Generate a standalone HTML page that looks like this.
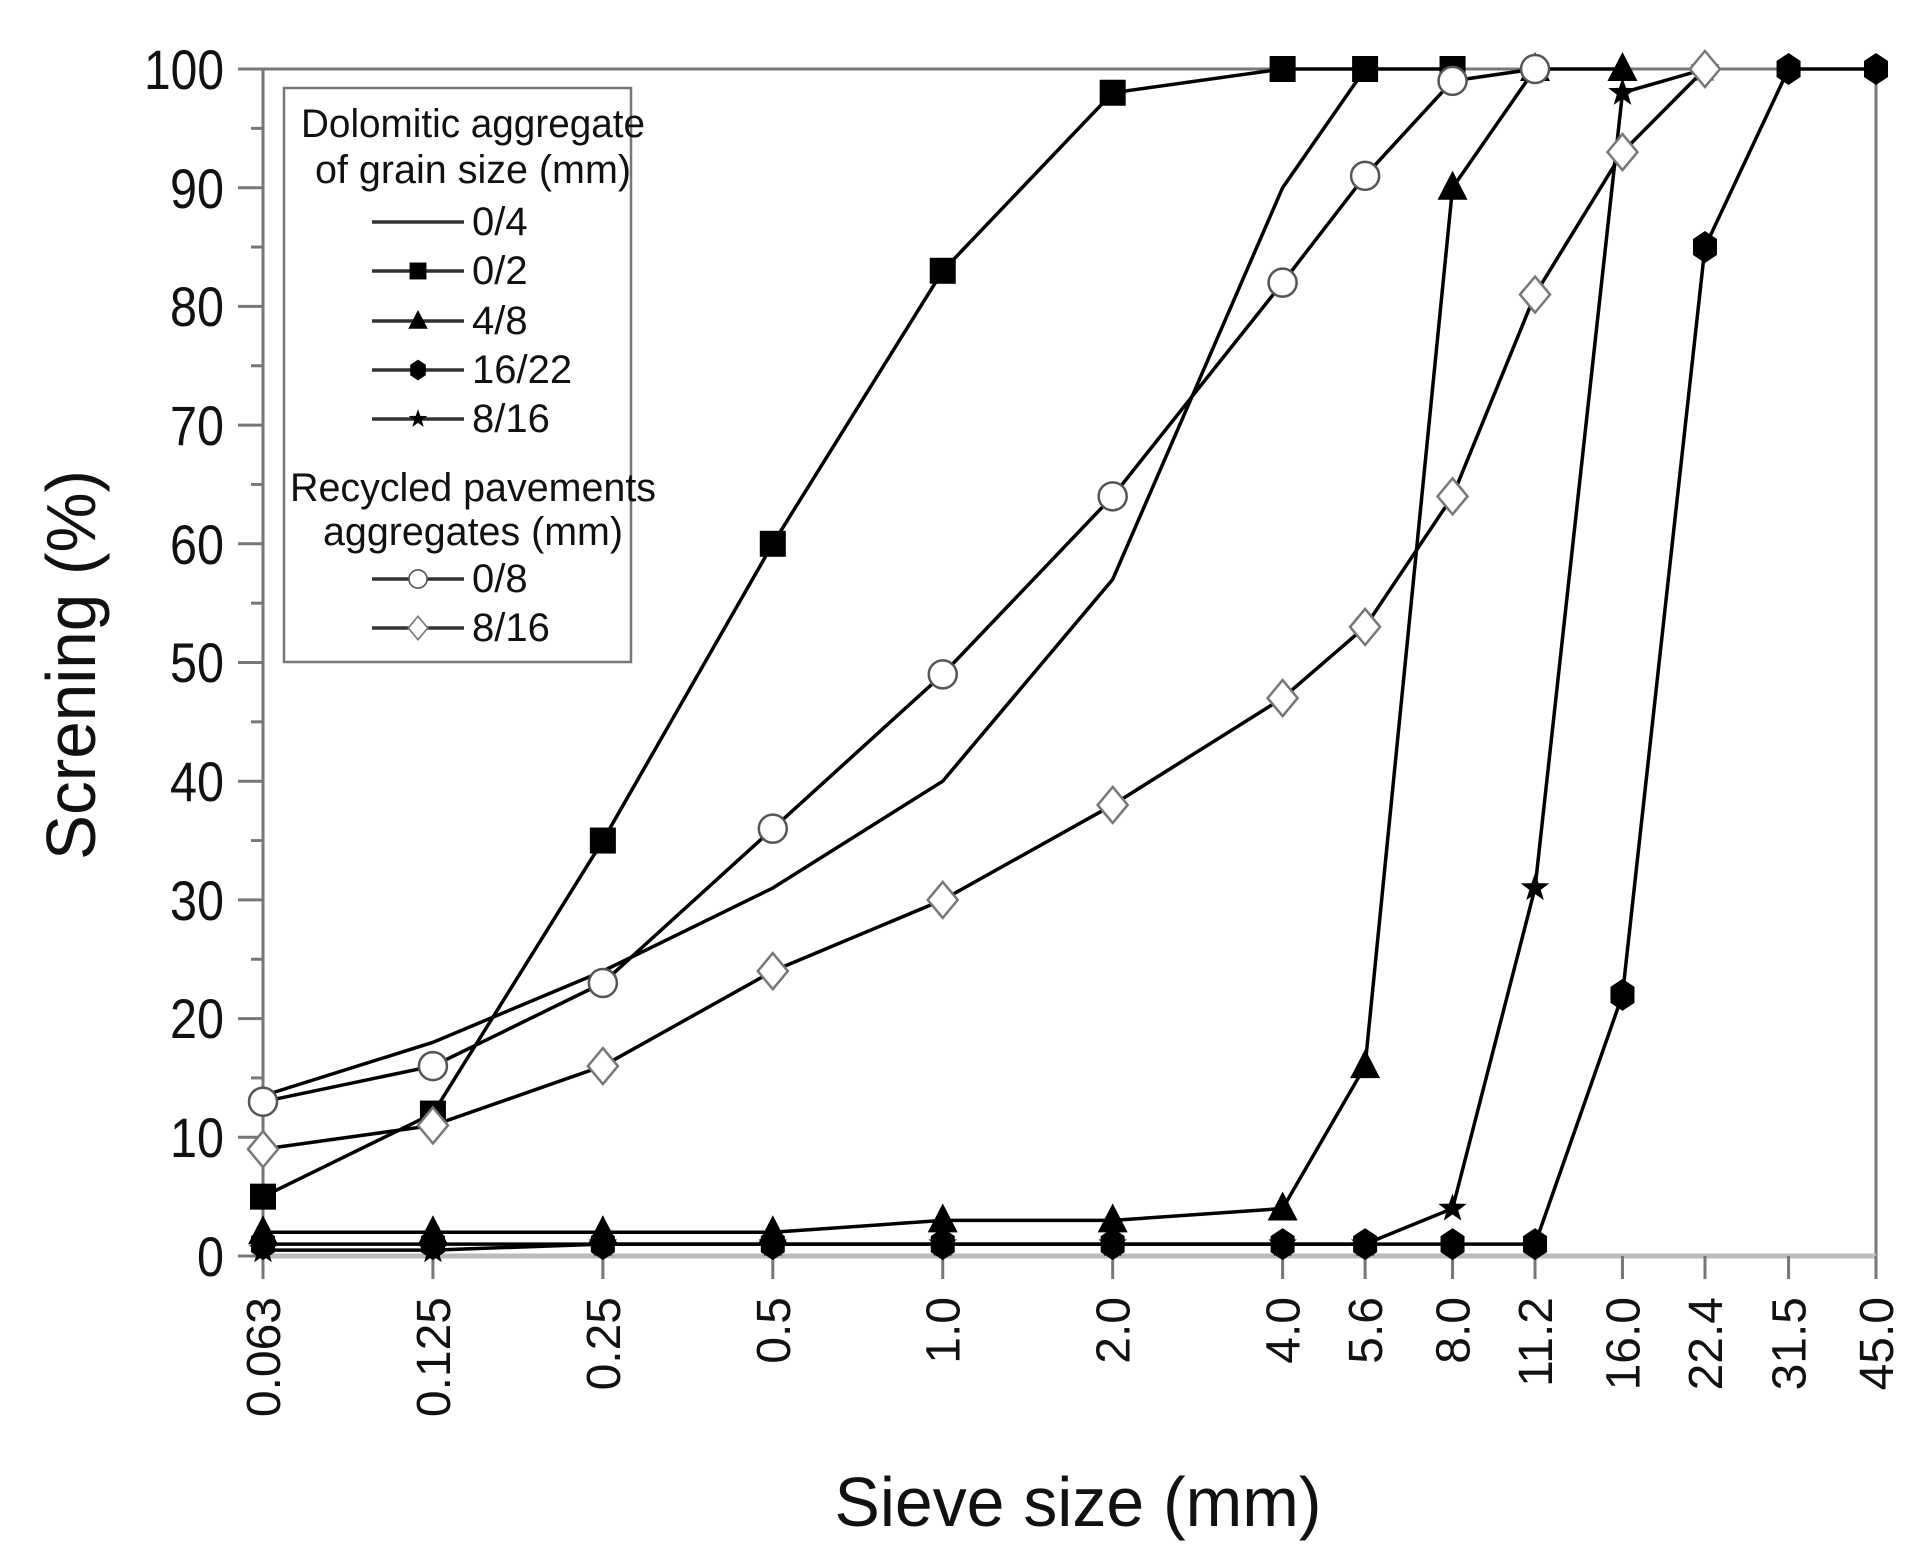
<!DOCTYPE html>
<html><head><meta charset="utf-8"><style>
html,body{margin:0;padding:0;background:#fff;}
svg{display:block;}
text{font-family:"Liberation Sans",Arial,sans-serif;fill:#111;}
</style></head><body>
<svg id="s" width="1928" height="1557" viewBox="0 0 1928 1557" xmlns="http://www.w3.org/2000/svg">
<rect x="0" y="0" width="1928" height="1557" fill="#fff"/>
<g id="axes" stroke="#777" stroke-width="3" fill="none">
<line x1="263" y1="69" x2="1876" y2="69"/>
<line x1="1876" y1="69" x2="1876" y2="1258"/>
<line x1="263" y1="69" x2="263" y2="1256"/>
<line x1="263" y1="1256" x2="1876" y2="1256" stroke="#bbb" stroke-width="5"/>
</g>
<g id="ticks" stroke="#777" stroke-width="3"></g>
<g id="series"></g>
<!-- legend -->
<rect x="284" y="88" width="347" height="574" fill="#fff" stroke="#777" stroke-width="2.5"/>
<g font-size="40" text-anchor="middle">
<text x="473" y="137" textLength="344" lengthAdjust="spacingAndGlyphs">Dolomitic aggregate</text>
<text x="473" y="183" textLength="316" lengthAdjust="spacingAndGlyphs">of grain size (mm)</text>
<text x="473" y="501" textLength="366" lengthAdjust="spacingAndGlyphs">Recycled pavements</text>
<text x="473" y="545" textLength="300" lengthAdjust="spacingAndGlyphs">aggregates (mm)</text>
</g>
<g font-size="40">
<text x="472" y="235">0/4</text>
<text x="472" y="284">0/2</text>
<text x="472" y="334">4/8</text>
<text x="472" y="383">16/22</text>
<text x="472" y="432">8/16</text>
<text x="472" y="592">0/8</text>
<text x="472" y="641">8/16</text>
</g>
<g id="leg"></g>
<!-- y labels -->
<g font-size="56" text-anchor="end">
<text x="224" y="89" textLength="80" lengthAdjust="spacingAndGlyphs">100</text>
<text x="224" y="208" textLength="54" lengthAdjust="spacingAndGlyphs">90</text>
<text x="224" y="326" textLength="54" lengthAdjust="spacingAndGlyphs">80</text>
<text x="224" y="445" textLength="54" lengthAdjust="spacingAndGlyphs">70</text>
<text x="224" y="564" textLength="54" lengthAdjust="spacingAndGlyphs">60</text>
<text x="224" y="682" textLength="54" lengthAdjust="spacingAndGlyphs">50</text>
<text x="224" y="801" textLength="54" lengthAdjust="spacingAndGlyphs">40</text>
<text x="224" y="920" textLength="54" lengthAdjust="spacingAndGlyphs">30</text>
<text x="224" y="1038" textLength="54" lengthAdjust="spacingAndGlyphs">20</text>
<text x="224" y="1157" textLength="54" lengthAdjust="spacingAndGlyphs">10</text>
<text x="224" y="1276" textLength="27" lengthAdjust="spacingAndGlyphs">0</text>
</g>
<g id="xl" font-size="48" text-anchor="end"></g>
<text x="0" y="0" font-size="70" text-anchor="middle" transform="translate(95,665) rotate(-90)" textLength="390" lengthAdjust="spacingAndGlyphs">Screning (%)</text>
<text x="1078" y="1526" font-size="70" text-anchor="middle" textLength="487" lengthAdjust="spacingAndGlyphs">Sieve size  (mm)</text>
</svg>
<script>
var NS="http://www.w3.org/2000/svg";
var sz=[0.063,0.125,0.25,0.5,1.0,2.0,4.0,5.6,8.0,11.2,16.0,22.4,31.5,45.0];
var lab=["0.063","0.125","0.25","0.5","1.0","2.0","4.0","5.6","8.0","11.2","16.0","22.4","31.5","45.0"];
var l0=Math.log(0.0625),l1=Math.log(45);
function X(i){return 263+(Math.log(i==0?0.0625:sz[i])-l0)/(l1-l0)*1613;}
function Y(v){return 1256-v*11.87;}
function el(t,a,p){var e=document.createElementNS(NS,t);for(var k in a)e.setAttribute(k,a[k]);(p||document.getElementById("series")).appendChild(e);return e;}
var tk=document.getElementById("ticks");
for(var v=0;v<=100;v+=5){el("line",{x1:v%10?251:238,y1:Y(v),x2:263,y2:Y(v)},tk);}
var xl=document.getElementById("xl");
for(var i=0;i<14;i++){var x=X(i);el("line",{x1:x,y1:1256,x2:x,y2:1279},tk);
 var t=el("text",{transform:"translate("+(x+17)+",1297) rotate(-90)"},xl);t.textContent=lab[i];}
function mk(type,x,y,p){
 if(type=="sq")el("rect",{x:x-13,y:y-13,width:26,height:26,fill:"#000"},p);
 else if(type=="tri")el("polygon",{points:(x)+","+(y-17)+" "+(x-15)+","+(y+12)+" "+(x+15)+","+(y+12),fill:"#000"},p);
 else if(type=="hex")el("polygon",{points:[[0,-16],[12,-8],[12,8],[0,16],[-12,8],[-12,-8]].map(function(q){return (x+q[0])+","+(y+q[1])}).join(" "),fill:"#000"},p);
 else if(type=="star"){var pts=[];for(var k=0;k<10;k++){var r=k%2?6:15,a=-Math.PI/2+k*Math.PI/5;pts.push((x+r*Math.cos(a))+","+(y+r*Math.sin(a)));}el("polygon",{points:pts.join(" "),fill:"#000"},p);}
 else if(type=="circ")el("circle",{cx:x,cy:y,r:14,fill:"#fff",stroke:"#555","stroke-width":2.5},p);
 else if(type=="dia")el("polygon",{points:x+","+(y-18)+" "+(x+15)+","+y+" "+x+","+(y+18)+" "+(x-15)+","+y,fill:"#fff",stroke:"#777","stroke-width":2.5},p);
}
var S=[
 ["none",[13.5,18,24,31,40,57,90,100]],
 ["sq",[5,12,35,60,83,98,100,100,100]],
 ["tri",[2,2,2,2,3,3,4,16,90,100,100]],
 ["star",[0.5,0.5,1,1,1,1,1,1,4,31,98,100]],
 ["hex",[1,1,1,1,1,1,1,1,1,1,22,85,100,100]],
 ["circ",[13,16,23,36,49,64,82,91,99,100]],
 ["dia",[9,11,16,24,30,38,47,53,64,81,93,100]]
];
S.forEach(function(s){var pts=s[1].map(function(v,i){return X(i)+","+Y(v)}).join(" ");
 el("polyline",{points:pts,fill:"none",stroke:"#000","stroke-width":3.5});});
S.forEach(function(s){if(s[0]!="none")s[1].forEach(function(v,i){mk(s[0],X(i),Y(v));});});
var lg=document.getElementById("leg");
[["none",222],["sq",271],["tri",321],["hex",370],["star",419],["circ",579],["dia",628]].forEach(function(a){
 el("line",{x1:372,y1:a[1],x2:464,y2:a[1],stroke:"#333","stroke-width":3.5},lg);
 if(a[0]!="none"){var p=document.createElementNS(NS,"g");p.setAttribute("transform","translate(418,"+a[1]+") scale(0.65) translate(-418,-"+a[1]+")");lg.appendChild(p);mk(a[0],418,a[1],p);}
});
</script>
</body></html>
